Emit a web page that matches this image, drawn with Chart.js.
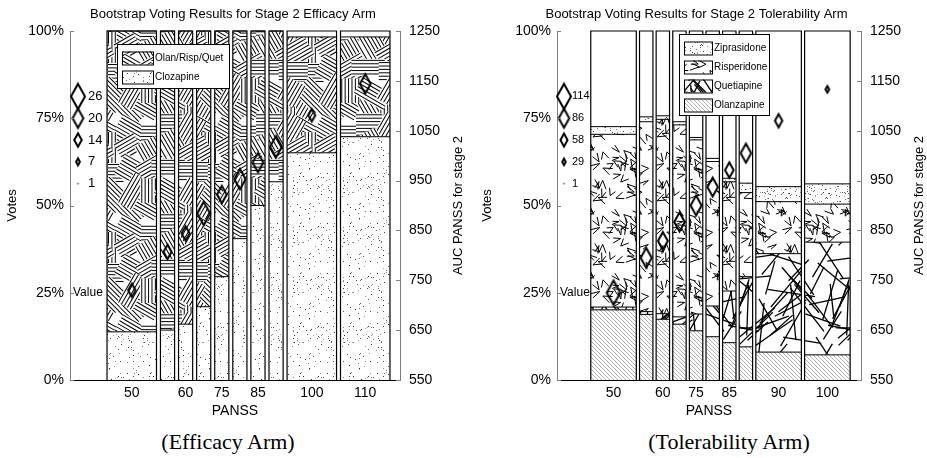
<!DOCTYPE html>
<html>
<head>
<meta charset="utf-8">
<script src="https://cdn.jsdelivr.net/npm/chart.js@4.4.1/dist/chart.umd.min.js"></script>
<style>
body { margin: 0; background: #fff; width: 927px; height: 458px; overflow: hidden; position: relative; }
.panel { position: absolute; top: 0; height: 425px; }
#effWrap { left: 0; width: 466px; }
#tolWrap { left: 466px; width: 461px; }
.caption { position: absolute; top: 430px; width: 240px; text-align: center; font-family: "Liberation Serif", "DejaVu Serif", serif; font-size: 22px; line-height: 24px; }
#effCap { left: 108px; }
#tolCap { left: 609px; }
</style>
</head>
<body>
<div class="panel" id="effWrap"><canvas id="effChart"></canvas></div>
<div class="panel" id="tolWrap"><canvas id="tolChart"></canvas></div>
<div class="caption" id="effCap">(Efficacy Arm)</div>
<div class="caption" id="tolCap">(Tolerability Arm)</div>
<script>
// Efficacy arm: one bar per PANSS cut-off, width = relative weight of the cut-off
const effTickLabels = ['50', '', '60', '', '75', '', '85', '', '100', '110'];
const effWeight = [3.5, 1, 1, 1, 1, 1, 1, 1, 3.5, 3.5];
const effClozapine = [13.8, 14.3, 16.0, 21.0, 29.6, 40.5, 50.0, 56.8, 65.1, 69.7];
const effOlanRispQuet = [86.2, 85.7, 84.0, 79.0, 70.4, 59.5, 50.0, 43.2, 33.2, 28.6];
const effAuc = [730, 807, 844, 884, 922, 953, 986, 1018, 1081, 1144];
const effCount = [14, 15, 15, 24, 18, 21, 20, 22, 13, 20];
const effSizeLegend = [26, 20, 14, 7, 1];

// Tolerability arm
const tolTickLabels = ['50', '', '60', '', '75', '', '85', '', '90', '100'];
const tolWeight = [3.4, 1, 1, 1, 1, 1, 1, 1, 3.4, 3.4];
const tolOlanzapine = [20.1, 18.8, 17.4, 16.0, 14.1, 12.4, 10.7, 9.5, 8.0, 7.2];
const tolQuetiapine = [0.8, 0.8, 1.6, 2.1, 4.8, 8.8, 14.8, 20.1, 28.2, 32.3];
const tolRisperidone = [49.5, 54.4, 55.7, 55.0, 49.9, 41.4, 31.3, 24.1, 14.9, 10.9];
const tolZiprasidone = [2.2, 1.4, 1.0, 0.9, 0.7, 0.9, 1.0, 2.7, 4.3, 5.8];
const tolAuc = [725, 795, 829, 867, 900, 937, 971, 1005, 1070, 1133];
const tolCount = [110, 90, 80, 86, 90, 86, 70, 86, 60, 30];
const tolSizeLegend = [114, 86, 58, 29, 1];

Chart.defaults.font.family = '"Liberation Sans", Arial, sans-serif';
Chart.defaults.color = '#000';
Chart.defaults.animation = false;

// small seeded generator, only used for texture of the hatch patterns
function rng(seed) {
    return function () {
        seed |= 0; seed = seed + 0x6D2B79F5 | 0;
        let t = Math.imul(seed ^ seed >>> 15, 1 | seed);
        t = t + Math.imul(t ^ t >>> 7, 61 | t) ^ t;
        return ((t ^ t >>> 14) >>> 0) / 4294967296;
    };
}

function makeTile(size, draw) {
    const c = document.createElement('canvas');
    c.width = c.height = size;
    const g = c.getContext('2d');
    g.fillStyle = '#fff';
    g.fillRect(0, 0, size, size);
    draw(g, size);
    return g.createPattern(c, 'repeat');
}

function wrapped(g, s, fn) {
    for (const dx of [-s, 0, s]) {
        for (const dy of [-s, 0, s]) {
            g.save(); g.translate(dx, dy); fn(); g.restore();
        }
    }
}

// patches of parallel strokes laid on a jittered grid so they cover the tile
const hatchPattern = makeTile(100, (g, s) => {
    const r = rng(7);
    const angles = [0, Math.PI / 2, Math.PI / 4, -Math.PI / 4, Math.PI / 3, -Math.PI / 6, Math.PI / 6, -Math.PI / 3, 2 * Math.PI / 3];
    const cell = 20;
    for (let gy = 0; gy < s / cell; gy++) {
        for (let gx = 0; gx < s / cell; gx++) {
            const cx = (gx + 0.5) * cell + (r() - 0.5) * 10, cy = (gy + 0.5) * cell + (r() - 0.5) * 10;
            const a = angles[Math.floor(r() * angles.length)];
            const sp = 3.4, n = 5 + Math.floor(r() * 3), len = 22 + r() * 12;
            wrapped(g, s, () => {
                g.translate(cx, cy); g.rotate(a);
                g.fillStyle = '#fff';
                g.fillRect(-len / 2, -n * sp / 2, len, n * sp);
                g.strokeStyle = '#000'; g.lineWidth = 1;
                g.beginPath();
                for (let j = 0; j < n; j++) {
                    const y = -n * sp / 2 + j * sp + 1.5;
                    g.moveTo(-len / 2, y); g.lineTo(len / 2, y);
                }
                g.stroke();
            });
        }
    }
});

function dotPattern(size, n, seed) {
    return makeTile(size, (g, s) => {
        const r = rng(seed);
        for (let k = 0; k < n; k++) {
            const v = Math.floor(40 + r() * 130);
            g.fillStyle = `rgb(${v},${v},${v})`;
            g.fillRect(Math.floor(r() * s), Math.floor(r() * s), 1, 1);
        }
    });
}
const clozapinePattern = dotPattern(50, 90, 3);
const ziprasidonePattern = dotPattern(40, 120, 9);

const vPattern = makeTile(64, (g, s) => {
    const r = rng(11);
    g.strokeStyle = '#000'; g.lineWidth = 1;
    for (let k = 0; k < 42; k++) {
        const x = r() * s, y = r() * s, a = r() * Math.PI * 2, open = 0.4 + r() * 0.6;
        const l1 = 7 + r() * 3, l2 = 6 + r() * 4;
        wrapped(g, s, () => {
            g.beginPath();
            g.moveTo(x + l1 * Math.cos(a), y + l1 * Math.sin(a));
            g.lineTo(x, y);
            g.lineTo(x + l2 * Math.cos(a + open), y + l2 * Math.sin(a + open));
            g.stroke();
        });
    }
});

const linePattern = makeTile(100, (g, s) => {
    const r = rng(5);
    g.strokeStyle = '#000'; g.lineWidth = 1.3;
    for (let k = 0; k < 44; k++) {
        const x = r() * s, y = r() * s, a = r() * Math.PI, l = 26 + r() * 30;
        const dx = Math.cos(a) * l / 2, dy = Math.sin(a) * l / 2;
        wrapped(g, s, () => {
            g.beginPath(); g.moveTo(x - dx, y - dy); g.lineTo(x + dx, y + dy); g.stroke();
        });
    }
});

const diagPattern = makeTile(4, (g) => {
    g.strokeStyle = '#9a9a9a'; g.lineWidth = 0.8;
    g.beginPath();
    for (const k of [-4, 0, 4]) { g.moveTo(k - 1, -1); g.lineTo(k + 5, 5); }
    g.stroke();
});

function makeDiamond(count, maxCount) {
    const w = 14 * count / maxCount;
    const h = w * 1.8;
    const c = document.createElement('canvas');
    c.width = Math.ceil(w + 10); c.height = Math.ceil(h + 12);
    const g = c.getContext('2d');
    const cx = c.width / 2, cy = c.height / 2;
    if (w < 2) {
        g.fillStyle = '#444';
        g.fillRect(cx - 0.75, cy - 0.75, 1.5, 1.5);
        return c;
    }
    g.beginPath();
    g.moveTo(cx, cy - h / 2); g.lineTo(cx + w / 2, cy);
    g.lineTo(cx, cy + h / 2); g.lineTo(cx - w / 2, cy);
    g.closePath();
    g.lineWidth = 2; g.strokeStyle = '#000';
    g.stroke();
    return c;
}

function buildChart(id, p) {
    const edges = [];
    let pos = 0;
    p.weights.forEach(w => { edges.push([pos, pos + w]); pos += w + p.gap; });
    const end = pos - p.gap;
    const centers = edges.map(e => (e[0] + e[1]) / 2);
    const tickPos = [], tickText = [];
    p.tickLabels.forEach((t, i) => { if (t) { tickPos.push(centers[i]); tickText.push(t); } });

    const datasets = [];
    const base = p.weights.map(() => 0);
    p.groups.forEach((grp, g) => {
        grp.values.forEach((v, i) => {
            const bottom = base[i], top = bottom + v;
            base[i] = top;
            if (v <= 0) return;
            datasets.push({
                type: 'line',
                data: [{ x: edges[i][0], y: top }, { x: edges[i][1], y: top }],
                fill: { value: bottom },
                backgroundColor: grp.pattern,
                borderColor: '#000', borderWidth: 1,
                pointRadius: 0, yAxisID: 'y', order: 3 + g, clip: 3
            });
        });
    });
    edges.forEach(e => {
        datasets.push({
            type: 'line',
            data: [{ x: e[0], y: 0 }, { x: e[0], y: 100 }, { x: e[1], y: 100 }, { x: e[1], y: 0 }],
            fill: false, borderColor: '#000', borderWidth: 1.2,
            pointRadius: 0, yAxisID: 'y', order: 2, clip: 3
        });
    });
    const maxLegend = Math.max(...p.sizeLegend);
    const marks = p.counts.map(c => makeDiamond(c, maxLegend));
    datasets.push({
        type: 'line', showLine: false,
        data: centers.map((c, i) => ({ x: c, y: p.auc[i] })),
        pointStyle: ctx => marks[ctx.dataIndex],
        pointRadius: 3, yAxisID: 'y2', order: 1
    });

    const legendMarks = p.sizeLegend.map(c => makeDiamond(c, maxLegend));
    const overlay = {
        id: 'overlay',
        afterDatasetsDraw(chart) {
            const ctx = chart.ctx, area = chart.chartArea, ys = chart.scales.y;
            ctx.save();
            // marker size legend
            const sizeY = [81.25, 75, 68.75, 62.5, 56.25];
            ctx.font = p.sizeFont + 'px "Liberation Sans", Arial, sans-serif';
            ctx.fillStyle = '#000'; ctx.textBaseline = 'middle'; ctx.textAlign = 'left';
            legendMarks.forEach((m, i) => {
                const py = ys.getPixelForValue(sizeY[i]);
                const px = area.left + p.sizeX;
                ctx.drawImage(m, px - m.width / 2, py - m.height / 2);
                ctx.fillText(String(p.sizeLegend[i]), px + p.sizeTextDx, py);
            });
            ctx.font = '12px "Liberation Sans", Arial, sans-serif';
            ctx.fillText('Value', area.left + 3, ys.getPixelForValue(25));
            // pattern legend box
            const b = p.box;
            const bx = area.left + b.dx, by = area.top + b.dy;
            ctx.fillStyle = '#fff'; ctx.fillRect(bx, by, b.w, b.h);
            ctx.strokeStyle = '#000'; ctx.lineWidth = 1;
            ctx.strokeRect(bx + 0.5, by + 0.5, b.w, b.h);
            ctx.font = '10px "Liberation Sans", Arial, sans-serif';
            p.legendRows.forEach((row, i) => {
                const cy = by + b.first + i * b.step;
                ctx.fillStyle = row.pattern;
                ctx.fillRect(bx + 5, cy - 6.5, b.sw, 13);
                ctx.strokeRect(bx + 5.5, cy - 6, b.sw, 13);
                ctx.fillStyle = '#000';
                ctx.fillText(row.label, bx + 7 + b.sw, cy + 0.5);
            });
            // right axis title, reading bottom to top
            const r = chart.scales.y2;
            ctx.translate(r.right - 8, (area.top + area.bottom) / 2);
            ctx.rotate(-Math.PI / 2);
            ctx.textAlign = 'center';
            ctx.font = '13px "Liberation Sans", Arial, sans-serif';
            ctx.fillText('AUC PANSS for stage 2', 0, 0);
            ctx.restore();
        },
        afterDraw(chart) {
            const ctx = chart.ctx;
            ctx.save();
            ctx.strokeStyle = '#808080'; ctx.lineWidth = 1;
            [['y', 1], ['y2', -1]].forEach(([key, dir]) => {
                const s = chart.scales[key];
                const x = (dir > 0 ? s.right : s.left);
                s.ticks.forEach(t => {
                    const py = Math.round(s.getPixelForValue(t.value)) + 0.5;
                    ctx.beginPath(); ctx.moveTo(x, py); ctx.lineTo(x + dir * 4, py); ctx.stroke();
                });
            });
            ctx.restore();
        }
    };

    return new Chart(document.getElementById(id), {
        type: 'line',
        data: { datasets },
        plugins: [overlay],
        options: {
            responsive: true,
            maintainAspectRatio: false,
            devicePixelRatio: 1,
            layout: { padding: 0 },
            plugins: {
                legend: { display: false },
                tooltip: { enabled: false },
                title: {
                    display: true, text: p.title, color: '#000',
                    font: { size: 13, weight: 'normal' },
                    padding: { top: 7, bottom: 8.4 }
                }
            },
            scales: {
                x: {
                    type: 'linear', min: -p.leftPad, max: end + p.rightPad,
                    afterBuildTicks: s => { s.ticks = tickPos.map(v => ({ value: v })); },
                    afterFit: s => { s.height = 45; },
                    ticks: { callback: (v, i) => tickText[i], autoSkip: false, maxRotation: 0, padding: 5, font: { size: 14 }, color: '#000' },
                    grid: { display: false, drawTicks: false },
                    border: { color: '#000', width: 1 },
                    title: { display: true, text: 'PANSS', font: { size: 14 }, color: '#000', padding: { top: 0, bottom: 5 } }
                },
                y: {
                    position: 'left', min: 0, max: 100,
                    afterFit: s => { s.width = p.leftAxis; },
                    ticks: { stepSize: 25, callback: v => v + '%', padding: 6, font: { size: 14 }, color: '#000' },
                    grid: { display: false, drawTicks: false },
                    border: { color: '#808080', width: 1 },
                    title: { display: true, text: 'Votes', font: { size: 13 }, color: '#000', padding: { top: p.votesPad, bottom: 0 } }
                },
                y2: {
                    position: 'right', min: 550, max: 1250,
                    afterFit: s => { s.width = 66; },
                    ticks: { stepSize: 100, callback: v => String(v), padding: 9, font: { size: 14 }, color: '#000' },
                    grid: { display: false, drawTicks: false },
                    border: { color: '#808080', width: 1 }
                }
            }
        }
    });
}

buildChart('effChart', {
    title: 'Bootstrap Voting Results for Stage 2 Efficacy Arm',
    weights: effWeight, gap: 0.28, leftPad: 2.62, rightPad: 0.71, leftAxis: 70, votesPad: 5,
    tickLabels: effTickLabels,
    groups: [
        { values: effClozapine, pattern: clozapinePattern },
        { values: effOlanRispQuet, pattern: hatchPattern }
    ],
    auc: effAuc, counts: effCount, sizeLegend: effSizeLegend,
    sizeX: 8, sizeTextDx: 10, sizeFont: 13,
    box: { dx: 47, dy: 13, w: 112, h: 44, first: 14, step: 19, sw: 31 },
    legendRows: [
        { label: 'Olan/Risp/Quet', pattern: hatchPattern },
        { label: 'Clozapine', pattern: clozapinePattern }
    ]
});

buildChart('tolChart', {
    title: 'Bootstrap Voting Results for Stage 2 Tolerability Arm',
    weights: tolWeight, gap: 0.24, leftPad: 2.52, rightPad: 0.81, leftAxis: 91, votesPad: 14,
    tickLabels: tolTickLabels,
    groups: [
        { values: tolOlanzapine, pattern: diagPattern },
        { values: tolQuetiapine, pattern: linePattern },
        { values: tolRisperidone, pattern: vPattern },
        { values: tolZiprasidone, pattern: ziprasidonePattern }
    ],
    auc: tolAuc, counts: tolCount, sizeLegend: tolSizeLegend,
    sizeX: 7, sizeTextDx: 8, sizeFont: 11,
    box: { dx: 122, dy: 3, w: 90, h: 81, first: 14, step: 19, sw: 28 },
    legendRows: [
        { label: 'Ziprasidone', pattern: ziprasidonePattern },
        { label: 'Risperidone', pattern: vPattern },
        { label: 'Quetiapine', pattern: linePattern },
        { label: 'Olanzapine', pattern: diagPattern }
    ]
});
</script>
</body>
</html>
